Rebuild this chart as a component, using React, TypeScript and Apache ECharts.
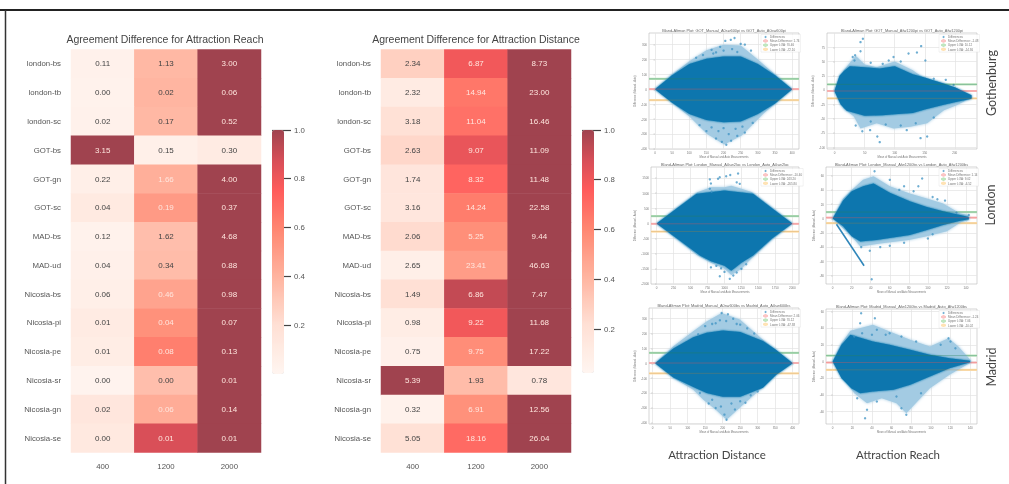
import React, { useEffect, useRef } from "react";
import * as echarts from "echarts";

const rowNames = ["london-bs","london-tb","london-sc","GOT-bs","GOT-gn","GOT-sc","MAD-bs","MAD-ud","Nicosia-bs","Nicosia-pi","Nicosia-pe","Nicosia-sr","Nicosia-gn","Nicosia-se"];
const radii = ["400","1200","2000"];

const reachLabels = [
  ["0.11","1.13","3.00"],["0.00","0.02","0.06"],["0.02","0.17","0.52"],["3.15","0.15","0.30"],
  ["0.22","1.66","4.00"],["0.04","0.19","0.37"],["0.12","1.62","4.68"],["0.04","0.34","0.88"],
  ["0.06","0.46","0.98"],["0.01","0.04","0.07"],["0.01","0.08","0.13"],["0.00","0.00","0.01"],
  ["0.02","0.06","0.14"],["0.00","0.01","0.01"],
];
const reachTones = [
  [.04,.38,1],[.03,.39,1],[.04,.38,1],[1,.05,.1],[.055,.415,1],[.11,.51,1],[.03,.35,1],
  [.045,.36,1],[.06,.47,1],[.1,.55,1],[.08,.62,1],[.02,.35,1],[.14,.43,1],[.12,.87,1],
];
const distanceLabels = [
  ["2.34","6.87","8.73"],["2.32","14.94","23.00"],["3.18","11.04","16.46"],["2.63","9.07","11.09"],
  ["1.74","8.32","11.48"],["3.16","14.24","22.58"],["2.06","5.25","9.44"],["2.65","23.41","46.63"],
  ["1.49","6.86","7.47"],["0.98","9.22","11.68"],["0.75","9.75","17.22"],["5.39","1.93","0.78"],
  ["0.32","6.91","12.56"],["5.05","18.16","26.04"],
];
const distanceTones = [
  [.27,.79,1],[.1,.65,1],[.19,.67,1],[.24,.82,1],[.15,.72,1],[.14,.63,1],[.22,.56,1],
  [.06,.5,1],[.2,.92,1],[.08,.79,1],[.045,.566,1],[1,.36,.145],[.03,.55,1],[.19,.7,1],
];
const tonePalette = ["#FFF5F0","#FFE0D5","#FFB39E","#FF8570","#FF5C5C","#D94F58","#A0434F"];
const toneStops = [0, .2, .4, .6, .75, .87, 1];

type Pts = number[][];
const gotDistOuterUp: Pts = [[0,0],[50,100],[100,188],[150,262],[200,300],[250,295],[300,200],[350,100],[400,0]];
const gotDistOuterLo: Pts = [[0,0],[53,-95],[102,-185],[151,-298],[202,-370],[253,-310],[316,-163],[400,0]];
const gotDistCoreUp: Pts = [[0,0],[50,95],[100,170],[150,205],[200,220],[250,220],[300,170],[350,95],[400,0]];
const gotDistCoreLo: Pts = [[0,0],[50,-90],[100,-165],[150,-205],[200,-220],[250,-215],[300,-165],[350,-95],[400,0]];
const gotDistDots: Pts = [[120,212],[140,230],[165,265],[178,248],[190,285],[205,325],[221,332],[232,345],[250,305],[262,300],[280,260],[225,270],[240,250],[170,240],[200,260],[150,-280],[178,-330],[195,-352],[208,-372],[222,-345],[240,-312],[262,-290],[285,-225],[130,-240],[165,-255],[185,-280],[215,-300],[235,-265],[255,-250],[200,-260]];

const gotReachOuterUp: Pts = [[0,0],[15,35],[35,60],[50,45],[70,40],[100,50],[130,35],[150,20],[180,12],[200,3],[228,-12]];
const gotReachOuterLo: Pts = [[0,0],[15,-32],[32,-46],[43,-67],[70,-58],[98,-67],[126,-64],[154,-58],[182,-35],[204,-26],[228,-13]];
const gotReachCoreUp: Pts = [[0,0],[8,25],[15,33],[25,42],[50,40],[75,38],[100,42],[130,28],[150,22],[180,12],[200,5],[228,-9]];
const gotReachCoreLo: Pts = [[0,-3],[10,-25],[20,-36],[50,-45],[80,-44],[100,-42],[130,-40],[150,-34],[180,-26],[200,-21],[228,-15]];
const gotReachDots: Pts = [[43,84],[47,90],[43,68],[34,61],[144,77],[151,52],[123,64],[137,66],[75,-91],[71,-81],[143,-84],[154,-81],[59,-70],[198,9],[30,58],[33,52],[98,58],[90,52],[35,-62],[46,-72],[120,-70],[60,48],[80,46],[110,50],[165,20],[185,18],[60,-55],[85,-60],[110,-62],[135,-58],[165,-48]];

const lonDistOuterUp: Pts = [[0,0],[300,520],[600,1030],[800,1200],[1000,1200],[1100,1250],[1250,1150],[1400,1040],[1700,520],[2000,0]];
const lonDistOuterLo: Pts = [[0,0],[300,-520],[600,-1050],[800,-1300],[1000,-1500],[1100,-1700],[1250,-1500],[1400,-1150],[1700,-530],[2000,0]];
const lonDistCoreUp: Pts = [[0,0],[300,500],[588,983],[1000,1090],[1421,983],[1700,500],[2000,0]];
const lonDistCoreLo: Pts = [[0,0],[300,-500],[637,-1060],[800,-1250],[1000,-1400],[1100,-1560],[1250,-1300],[1421,-1060],[1700,-500],[2000,0]];
const lonDistDots: Pts = [[784,1458],[800,1320],[905,1480],[930,1530],[1025,1560],[1085,1600],[1200,1650],[1180,1360],[1225,1310],[784,1150],[810,1050],[931,-1745],[1078,-1830],[1130,-1720],[800,-1450],[1000,-1600],[1250,-1500],[880,-1400],[950,-1480],[1180,-1620],[1320,-1350]];

const lonReachOuterUp: Pts = [[0,0],[11,28],[20,40],[32,54],[43,59],[60,45],[81,35],[99,28],[116,21],[134,7],[143,5]];
const lonReachOuterLo: Pts = [[0,0],[20,-25],[29,-39],[50,-35],[80,-30],[99,-25],[120,-18],[135,-5],[143,-2]];
const lonReachCoreUp: Pts = [[0,0],[11,25],[20,38],[32,45],[43,49],[60,36],[81,24],[99,16],[116,10],[134,5],[143,2]];
const lonReachCoreLo: Pts = [[0,0],[11,-11],[20,-25],[29,-32],[46,-30],[81,-23],[99,-16],[116,-9],[134,-3],[143,-1]];
const lonReachDots: Pts = [[44,66],[41,-85],[39,-45],[94,56],[60,54],[75,45],[90,45],[105,30],[118,25],[100,-28],[105,-22],[143,5],[130,8],[155,6],[60,-38],[30,-40],[70,40],[85,38],[110,27],[50,-40],[75,-34]];
const lonReachStreak: Pts = [[4,-8],[33,-66]];

const madDistOuterUp: Pts = [[7,0],[59,114],[116,215],[154,282],[197,338],[249,294],[315,159],[400,0]];
const madDistOuterLo: Pts = [[7,0],[59,-99],[116,-177],[144,-244],[182,-316],[211,-379],[258,-278],[296,-200],[353,-76],[400,0]];
const madDistCoreUp: Pts = [[7,0],[59,100],[116,175],[154,205],[200,220],[250,210],[315,150],[350,95],[400,0]];
const madDistCoreLo: Pts = [[7,0],[59,-95],[116,-160],[154,-200],[200,-225],[250,-225],[315,-165],[353,-76],[400,0]];
const madDistDots: Pts = [[197,338],[215,330],[192,290],[230,300],[250,260],[270,235],[150,250],[170,265],[211,-379],[205,-345],[235,-310],[180,-300],[160,-270],[265,-265],[300,-190],[130,195],[180,270],[210,285],[240,265],[290,200],[135,-200],[170,-245],[195,-290],[225,-270],[250,-255],[280,-215]];

const madReachOuterUp: Pts = [[0,0],[9,22],[18,37],[41,44],[58,36],[79,26],[99,18],[118,28],[128,18],[141,1]];
const madReachOuterLo: Pts = [[0,0],[12,-22],[22,-38],[35,-50],[50,-44],[65,-50],[75,-62],[99,-32],[119,-16],[141,-1]];
const madReachCoreUp: Pts = [[0,0],[9,20],[18,32],[41,24],[58,20],[79,14],[99,8],[119,4],[140,1]];
const madReachCoreLo: Pts = [[0,0],[9,-20],[19,-32],[28,-38],[41,-36],[62,-34],[79,-28],[99,-18],[119,-8],[140,-1]];
const madReachDots: Pts = [[29,58],[28,46],[43,52],[40,32],[33,-68],[35,-58],[75,-64],[70,-56],[118,28],[58,34],[54,32],[120,24],[45,38],[85,24],[65,-42],[22,30],[30,34],[70,30],[110,20],[125,16],[25,-44],[45,-48],[90,-38]];

const axisX = "Mean of Manual and Auto Measurements";
const axisY = "Difference (Manual - Auto)";

const panels = [
  { title: "Bland-Altman Plot: GOT_Manual_A0sw600pi vs GOT_Auto_A0sw600pi", box: [649,33,799,149], xr: [-17.5,420], yr: [-400,378],
    xt: [0,50,100,150,200,250,300,350,400], yt: [-400,-300,-200,-100,0,100,200,300],
    up: gotDistOuterUp, lo: gotDistOuterLo, cu: gotDistCoreUp, cl: gotDistCoreLo, dots: gotDistDots, lines: [1.74,70.46,-72.1] },
  { title: "Bland-Altman Plot: GOT_Manual_Afw1200pi vs GOT_Auto_Afw1200pi", box: [827,33,977,149], xr: [-12.8,237], yr: [-103,100],
    xt: [0,50,100,150,200], yt: [-100,-75,-50,-25,0,25,50,75],
    up: gotReachOuterUp, lo: gotReachOuterLo, cu: gotReachCoreUp, cl: gotReachCoreLo, dots: gotReachDots, lines: [-1.48,10.12,-14.36] },
  { title: "Bland-Altman Plot: London_Manual_A0sw2loc vs London_Auto_A0sw2loc", box: [651,167,799,284], xr: [-83,2098], yr: [-2000,1867],
    xt: [0,250,500,750,1000,1250,1500,1750,2000], yt: [-2000,-1500,-1000,-500,0,500,1000,1500],
    up: lonDistOuterUp, lo: lonDistOuterLo, cu: lonDistCoreUp, cl: lonDistCoreLo, dots: lonDistDots, lines: [-10.4,243.2,-265.8] },
  { title: "Bland-Altman Plot: London_Manual_Afw1200bs vs London_Auto_Afw1200bs", box: [826,167,977,284], xr: [-7,151.6], yr: [-91.6,72],
    xt: [0,20,40,60,80,100,120,140], yt: [-80,-60,-40,-20,0,20,40,60],
    up: lonReachOuterUp, lo: lonReachOuterLo, cu: lonReachCoreUp, cl: lonReachCoreLo, dots: lonReachDots, streak: lonReachStreak, lines: [1.14,9.02,-6.52] },
  { title: "Bland-Altman Plot: Madrid_Manual_A0sw600bs vs Madrid_Auto_A0sw600bs", box: [649,308,799,424], xr: [-10.5,418], yr: [-408,372],
    xt: [0,50,100,150,200,250,300,350,400], yt: [-400,-300,-200,-100,0,100,200,300],
    up: madDistOuterUp, lo: madDistOuterLo, cu: madDistCoreUp, cl: madDistCoreLo, dots: madDistDots, lines: [2.06,70.12,-67.38] },
  { title: "Bland-Altman Plot: Madrid_Manual_Afw1200bs vs Madrid_Auto_Afw1200bs", box: [826,309,977,424], xr: [-6.8,147], yr: [-75,63],
    xt: [0,20,40,60,80,100,120,140], yt: [-60,-40,-20,0,20,40,60],
    up: madReachOuterUp, lo: madReachOuterLo, cu: madReachCoreUp, cl: madReachCoreLo, dots: madReachDots, lines: [-1.24,7.06,-10.02] },
];

const sideLabels = [
  { text: "Gothenburg", x: 991, y: 83 },
  { text: "London", x: 990, y: 205 },
  { text: "Madrid", x: 991, y: 367 },
];
const bottomLabels = [
  { text: "Attraction Distance", x: 717, y: 454 },
  { text: "Attraction Reach", x: 898, y: 454 },
];

// visualMap spaces its colours evenly, so the uneven stops of the bar are resampled onto an even ramp.
function interpolatePalette() {
  const out: string[] = [];
  const n = 40;
  const hex = (c: string) => [1, 3, 5].map((i) => parseInt(c.slice(i, i + 2), 16));
  for (let i = 0; i <= n; i++) {
    const t = i / n;
    let k = 0;
    while (k < toneStops.length - 2 && t > toneStops[k + 1]) k++;
    const f = (t - toneStops[k]) / (toneStops[k + 1] - toneStops[k]);
    const a = hex(tonePalette[k]), b = hex(tonePalette[k + 1]);
    out.push(`rgb(${a.map((v, j) => Math.round(v + (b[j] - v) * f)).join(",")})`);
  }
  return out;
}

function buildOption() {
  const grid: any[] = [], xAxis: any[] = [], yAxis: any[] = [], series: any[] = [], legend: any[] = [], visualMap: any[] = [];
  const heatmaps = [
    { left: 71, labels: reachLabels, tones: reachTones, barLeft: 272, barHeight: 244, barAxis: 195 },
    { left: 381, labels: distanceLabels, tones: distanceTones, barLeft: 582, barHeight: 243, barAxis: 199 },
  ];
  const sideText = { fontSize: 7.8, color: "#555", fontFamily: "Liberation Sans" };
  heatmaps.forEach((h, i) => {
    grid.push({ left: h.left, top: 49.5, width: 190, height: 403 });
    xAxis.push({ type: "category", gridIndex: grid.length - 1, data: radii, axisLine: { show: false }, axisTick: { show: false }, splitLine: { show: false }, axisLabel: { ...sideText, margin: 10 } });
    yAxis.push({ type: "category", gridIndex: grid.length - 1, inverse: true, data: rowNames, axisLine: { show: false }, axisTick: { show: false }, splitLine: { show: false }, axisLabel: { ...sideText, margin: 10 } });
    const data: any[] = [];
    h.labels.forEach((row, r) => row.forEach((t, c) => {
      const tone = h.tones[r][c];
      data.push({ value: [c, r, tone, t], label: { color: tone > 0.4 ? "#FFE6DE" : "#444" } });
    }));
    series.push({
      type: "heatmap", xAxisIndex: grid.length - 1, yAxisIndex: grid.length - 1, data, encode: { x: 0, y: 1 },
      label: { show: true, fontSize: 8, fontFamily: "Liberation Sans", formatter: (p: any) => p.value[3] },
      itemStyle: { borderWidth: 0 }, emphasis: { disabled: true },
    });
    visualMap.push({
      type: "continuous", seriesIndex: i, dimension: 2, min: 0, max: 1, orient: "vertical", left: h.barLeft, top: 130, padding: 0,
      itemWidth: 12, itemHeight: h.barHeight, calculable: false, hoverLink: false, showLabel: false, text: ["", ""],
      inRange: { color: interpolatePalette() },
    });
  });
  heatmaps.forEach((h) => {
    // The bar's tick marks are the part of this grid's split lines that shows to the right of the visualMap bar.
    grid.push({ left: h.barLeft, top: 130, width: 19, height: h.barAxis });
    xAxis.push({ type: "value", gridIndex: grid.length - 1, show: false });
    yAxis.push({
      type: "value", gridIndex: grid.length - 1, min: 0.2, max: 1, interval: 0.2, position: "right",
      axisLine: { show: false }, axisTick: { show: false },
      splitLine: { show: true, lineStyle: { color: "#444", width: 1.2 } },
      axisLabel: { ...sideText, margin: 3, formatter: (v: number) => v.toFixed(1) },
    });
  });

  const tiny = { fontSize: 3, color: "#777", fontFamily: "Liberation Sans" };
  const nameText = { fontSize: 2.7, color: "#777", fontFamily: "Liberation Sans" };
  const graphic: any[] = [
    { type: "line", shape: { x1: 0, y1: 10, x2: 1009, y2: 10 }, style: { stroke: "#222", lineWidth: 2 } },
    { type: "line", shape: { x1: 5.5, y1: 10, x2: 5.5, y2: 484 }, style: { stroke: "#333", lineWidth: 1.5 } },
    { type: "text", x: 165, y: 39, style: { text: "Agreement Difference for Attraction Reach", fill: "#444", fontSize: 10.5, fontFamily: "Liberation Sans", textAlign: "center", textVerticalAlign: "middle" } },
    { type: "text", x: 476, y: 39, style: { text: "Agreement Difference for Attraction Distance", fill: "#444", fontSize: 10.5, fontFamily: "Liberation Sans", textAlign: "center", textVerticalAlign: "middle" } },
  ];
  panels.forEach((p) => {
    const [x0, y0, x1, y1] = p.box;
    grid.push({ left: x0, top: y0, width: x1 - x0, height: y1 - y0, show: true, borderColor: "#bbb", borderWidth: 0.6, backgroundColor: "#fff" });
    const g = grid.length - 1;
    const axisCommon = {
      gridIndex: g, type: "value", nameLocation: "middle", nameTextStyle: nameText,
      axisLine: { show: false }, splitLine: { show: true, lineStyle: { color: "#e2e2e2", width: 0.7 } },
    };
    const tickLabel = { ...tiny, margin: 2, formatter: (v: number) => String(v) };
    xAxis.push({ ...axisCommon, min: p.xr[0], max: p.xr[1], name: axisX, nameGap: 7,
      axisTick: { show: true, length: 1.5, lineStyle: { color: "#999", width: 0.4 }, customValues: p.xt },
      axisLabel: { ...tickLabel, customValues: p.xt } });
    yAxis.push({ ...axisCommon, min: p.yr[0], max: p.yr[1], name: axisY, nameGap: 10,
      axisTick: { show: true, length: 1.5, lineStyle: { color: "#999", width: 0.4 }, customValues: p.yt },
      axisLabel: { ...tickLabel, customValues: p.yt } });
    const common = { xAxisIndex: g, yAxisIndex: g, silent: true };
    const [mean, upper, lower] = p.lines;
    const names = [`Mean Difference: ${mean.toFixed(2)}`, `Upper LOA: ${upper.toFixed(2)}`, `Lower LOA: ${lower.toFixed(2)}`];
    const pale = ["#FBC4C4", "#BFE6BF", "#FFE2B3"];
    const thin = ["rgba(230,80,80,0.45)", "rgba(40,130,90,0.5)", "rgba(190,130,40,0.35)"];
    p.lines.forEach((v, i) => series.push({ ...common, type: "line", z: 1, name: names[i], data: [[p.xr[0], v], [p.xr[1], v]], showSymbol: false, lineStyle: { color: pale[i], width: 2.2 }, itemStyle: { color: pale[i] } }));
    const polygon = (top: Pts, bottom: Pts, fill: string, z: number, blur: number) => {
      const pts = [...top, ...[...bottom].reverse()];
      return {
        ...common, type: "custom", z, data: pts, encode: { x: 0, y: 1 },
        renderItem: (params: any, api: any) => params.dataIndex === 0
          ? { type: "polygon", shape: { points: pts.map((q) => api.coord(q)) }, style: { fill, shadowBlur: blur, shadowColor: fill } }
          : null,
      };
    };
    series.push(polygon(p.up, p.lo, "#A3CBE3", 2, 3), polygon(p.cu, p.cl, "#0F76AE", 3, 2.5));
    series.push({ ...common, type: "scatter", z: 4, name: "Differences", data: p.dots, symbolSize: 2.4, itemStyle: { color: "#3F93C3", opacity: 0.75 } });
    if (p.streak) series.push({ ...common, type: "line", z: 4, data: p.streak, showSymbol: false, lineStyle: { color: "#2F86BA", width: 1.6 } });
    p.lines.forEach((v, i) => series.push({ ...common, type: "line", z: 5, data: [[p.xr[0], v], [p.xr[1], v]], showSymbol: false, lineStyle: { color: thin[i], width: 0.8 } }));
    legend.push({
      left: x1 - 38, top: y0 + 1.5, orient: "vertical", padding: 1, itemGap: 0.6, itemWidth: 5, itemHeight: 2,
      data: ["Differences", ...names], textStyle: { fontSize: 3, color: "#777", fontFamily: "Liberation Sans", padding: [0, 0, 0, -3] },
      backgroundColor: "rgba(255,255,255,0.85)", borderColor: "#ddd", borderWidth: 0.4, selectedMode: false, z: 6,
    });
    graphic.push({ type: "text", x: (x0 + x1) / 2, y: y0 - 2.5, style: { text: p.title, fill: "#666", fontSize: 3.9, fontFamily: "Liberation Sans", textAlign: "center", textVerticalAlign: "middle" } });
  });
  sideLabels.forEach((s) => graphic.push({ type: "text", x: s.x, y: s.y, rotation: Math.PI / 2, style: { text: s.text, fill: "#444", fontSize: 12.5, fontFamily: "Lato", textAlign: "center", textVerticalAlign: "middle" } }));
  bottomLabels.forEach((s) => graphic.push({ type: "text", x: s.x, y: s.y, style: { text: s.text, fill: "#444", fontSize: 11.5, fontFamily: "Lato", textAlign: "center", textVerticalAlign: "middle" } }));

  return { animation: false, backgroundColor: "#fff", grid, xAxis, yAxis, series, legend, visualMap, graphic };
}

export default function App() {
  const ref = useRef<HTMLDivElement>(null);
  useEffect(() => {
    document.body.style.margin = "0";
    const chart = echarts.init(ref.current!, undefined, { renderer: "svg" });
    chart.setOption(buildOption() as any);
    return () => chart.dispose();
  }, []);
  return <div ref={ref} style={{ width: 1009, height: 484, filter: "blur(0.5px)" }} />;
}
